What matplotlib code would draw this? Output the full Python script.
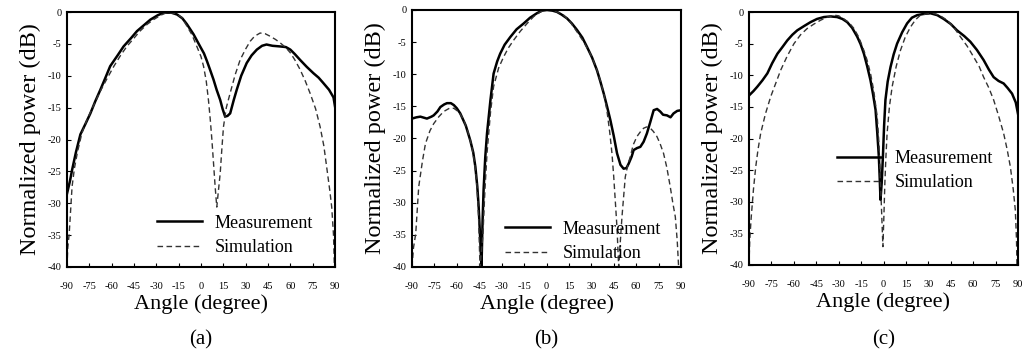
import matplotlib
matplotlib.use("Agg")
import matplotlib.pyplot as plt
from matplotlib.lines import Line2D

plt.rcParams['font.family'] = ['Liberation Serif', 'DejaVu Serif']

# ---------------- data ----------------
a_meas_x = [-90, -88, -86.6, -84, -81, -77.5, -74.3, -71, -67.6, -64, -61, -56, -52, -47, -43, -38, -34, -29, -25, -20, -16, -12.5, -9.5, -5, -0.6, 2, 4, 6, 8.4, 10.5, 12.9, 14.5, 16.2, 17.8, 19.6, 22, 24, 27, 30.7, 34, 37.5, 41, 44, 48, 53, 57, 60, 63, 66.5, 71, 75.5, 79, 82, 86, 89, 90]
a_meas_y = [-28.5, -26.5, -24.8, -22, -19.2, -17.5, -15.9, -14, -12.2, -10.2, -8.5, -6.8, -5.4, -4.1, -3, -2, -1.2, -0.5, -0.1, -0.1, -0.4, -1.0, -1.9, -3.5, -5.4, -6.5, -7.7, -9.0, -10.6, -12.2, -13.8, -15.2, -16.4, -16.3, -15.9, -13.8, -12.2, -10.0, -8.0, -6.8, -5.9, -5.3, -5.1, -5.3, -5.4, -5.5, -5.9, -6.6, -7.5, -8.6, -9.6, -10.3, -11.1, -12.2, -13.4, -14.8]

a_sim_x = [-90, -89.5, -88.5, -86.6, -85, -83, -80, -76.6, -72, -67.6, -63, -58.5, -54, -49.8, -45, -41, -36, -31.9, -27, -23, -18, -13, -9.5, -6, -2.8, 0, 1.7, 3.5, 5, 6.2, 7.3, 8.5, 9.5, 10.6, 11.5, 12.9, 14, 15.1, 17, 19.6, 23, 26.3, 30, 33, 36, 39.7, 43, 46.4, 50, 53, 57, 60, 63, 66.5, 70, 73.2, 77, 80, 82.5, 84.4, 86.5, 87.8, 89, 89.6]
a_sim_y = [-40, -37, -34.7, -27.4, -24.5, -22, -19, -16.9, -14.6, -12.4, -10.4, -8.5, -6.8, -5.4, -4.1, -3.0, -1.9, -1.2, -0.5, -0.1, -0.2, -0.8, -2.2, -3.6, -5.4, -7.0, -8.5, -10.8, -13.8, -16.8, -20, -24, -27.4, -30.6, -28.5, -25.3, -21.5, -18, -15, -12.7, -9.8, -7.5, -5.8, -4.6, -3.8, -3.3, -3.4, -3.8, -4.3, -4.8, -5.6, -6.4, -7.5, -9.0, -10.8, -12.7, -15.2, -18, -21, -24.3, -28.0, -30.6, -35, -40]

b_meas_x = [-90, -87, -84.4, -80, -77, -75.5, -73, -71, -68.5, -66.6, -64, -62, -60, -57.7, -54, -51, -49, -47.6, -46.3, -45.4, -44.5, -43.5, -42.8, -42.1, -41, -39.8, -37.5, -35.4, -33, -31, -28, -24.2, -20, -15.3, -11, -6.4, -3, 0.3, 4, 7, 10, 13.7, 17, 20.4, 24, 27, 30.5, 33.8, 36, 38.3, 40.5, 42.7, 45, 47.2, 49.5, 51.6, 53.5, 55, 57, 58.3, 60.5, 62.8, 65, 67.2, 69.5, 71.7, 74, 76.1, 78, 80.6, 83, 85, 87.5, 90]
b_meas_y = [-16.9, -16.7, -16.6, -16.9, -16.6, -16.4, -15.8, -15.1, -14.7, -14.5, -14.5, -14.8, -15.3, -16.1, -18.0, -20.3, -22.2, -24.4, -27.5, -30.6, -35, -40, -33, -28, -23, -19.2, -14, -9.9, -8.0, -6.8, -5.4, -4.2, -3.0, -2.1, -1.2, -0.5, -0.1, 0.0, -0.1, -0.3, -0.7, -1.3, -2.1, -3.1, -4.3, -5.7, -7.4, -9.4, -11.1, -13, -15, -17.1, -19.6, -22.3, -24.1, -24.7, -24.6, -23.9, -22.8, -21.8, -21.5, -21.3, -20.5, -19.2, -17.4, -15.6, -15.4, -15.8, -16.3, -16.4, -16.7, -16.1, -15.7, -15.6]

b_sim_x = [-90, -89, -87.5, -85.5, -83, -81, -78, -75.5, -72, -68.8, -65, -62, -58.5, -55.4, -52.5, -49.9, -48, -46.5, -45.5, -44.5, -43.6, -42.5, -41.2, -39.8, -37.5, -35.4, -32, -28.7, -25.5, -22, -17.5, -13, -8.5, -4.1, -0.5, 2.6, 7, 11.5, 16, 20.4, 25, 29.3, 33, 35.9, 38.5, 40.4, 42.3, 43.8, 45, 46, 47.2, 48.3, 49.4, 50.5, 52.7, 54.5, 56, 58, 60.5, 63, 65, 67, 69.5, 71.5, 73.9, 76, 78.3, 80.5, 82.8, 84.5, 86.2, 87.5, 88.4]
b_sim_y = [-40, -37, -34.8, -27.5, -23.5, -20.8, -18.8, -17.7, -16.6, -15.8, -15.3, -15.3, -15.9, -17.1, -19, -21.3, -24, -27.5, -32, -40, -38, -34.8, -28, -22.3, -16, -11.9, -9.0, -7.3, -5.9, -4.7, -3.3, -2.1, -1.0, -0.3, 0.0, 0.0, -0.3, -0.8, -1.9, -3.4, -5.0, -6.8, -8.8, -10.9, -13.2, -15.6, -19, -22.3, -26, -29.6, -34, -40, -36, -32.2, -26, -24, -22.9, -21.0, -19.7, -18.9, -18.4, -18.2, -18.4, -18.9, -19.7, -20.8, -22.3, -24.5, -27.5, -30, -32.2, -36, -40]

c_meas_x = [-90, -87, -84.4, -81, -77.7, -74.5, -71, -67.5, -64.4, -61, -57.7, -53, -48.8, -44.5, -39.9, -35.5, -31, -27.5, -24.3, -21, -17.6, -15.3, -13.1, -11, -8.7, -7, -5.3, -4.2, -3.1, -2.5, -2, -1.2, -0.4, 0.4, 1.3, 2.8, 4.7, 6.8, 9.1, 12.5, 15.8, 19, 22.5, 27, 31.4, 36, 40.3, 45, 49.2, 54, 58.1, 62.5, 67, 70.5, 73.7, 77, 80.4, 83, 86, 88.5, 90]
c_meas_y = [-13.2, -12.5, -11.8, -10.8, -9.7, -8.1, -6.6, -5.5, -4.5, -3.6, -2.9, -2.2, -1.6, -1.1, -0.8, -0.7, -0.8, -1.1, -1.6, -2.5, -3.9, -5.1, -6.6, -8.5, -10.8, -13.0, -15.5, -19.0, -22.9, -26.5, -29.7, -27, -22.9, -18, -13.9, -11, -8.7, -6.7, -5.0, -3.2, -1.8, -0.9, -0.5, -0.3, -0.2, -0.5, -1.1, -1.9, -2.9, -3.8, -4.7, -6.0, -7.6, -9.1, -10.3, -10.9, -11.3, -12.0, -12.9, -14.3, -16.1]

c_sim_x = [-90, -89.5, -88.5, -87, -85.5, -84, -82.2, -79, -75.5, -72, -68.8, -64.5, -59.9, -55.5, -51, -46.5, -42.1, -37.5, -33.2, -30, -26.5, -23, -19.8, -16.5, -13.1, -11, -8.7, -6.5, -4.2, -3, -2, -1.2, -0.4, 0.3, 0.9, 1.6, 2.4, 4, 5.8, 8.5, 11.3, 14.5, 18, 21.5, 24.7, 29, 33.6, 38, 42.5, 47, 51.4, 56, 60.3, 64, 67, 70.5, 73.7, 77, 80.4, 82.8, 84.9, 86.8, 88.2, 89, 89.3]
c_sim_y = [-40, -36, -32.4, -28, -24.5, -21.8, -19.2, -16.1, -13.4, -11.2, -9.2, -7.0, -5.0, -3.6, -2.6, -1.9, -1.3, -0.8, -0.5, -0.6, -1.1, -1.7, -2.6, -4.0, -6.1, -7.6, -9.7, -12.5, -16.6, -21, -27.1, -32, -37.1, -32, -27.1, -23, -19.2, -14.9, -11.8, -8.6, -6.1, -4.0, -2.4, -1.2, -0.5, -0.3, -0.2, -0.6, -1.3, -2.4, -3.9, -5.4, -7.1, -8.6, -10.3, -12.0, -13.9, -16.4, -19.2, -21.8, -24.5, -28, -31.3, -36, -40]

x_ticks = [-90, -75, -60, -45, -30, -15, 0, 15, 30, 45, 60, 75, 90]
y_ticks = [0, -5, -10, -15, -20, -25, -30, -35, -40]
panel_labels = ['(a)', '(b)', '(c)']
xlabel = 'Angle (degree)'
ylabel = 'Normalized power (dB)'
legend_labels = ['Measurement', 'Simulation']

panels = [
    (a_meas_x, a_meas_y, a_sim_x, a_sim_y),
    (b_meas_x, b_meas_y, b_sim_x, b_sim_y),
    (c_meas_x, c_meas_y, c_sim_x, c_sim_y),
]

# ---------------- layout ----------------
W, H = 1029, 358
fig = plt.figure(figsize=(W / 100, H / 100), dpi=100)

axes_px = [(67, 12, 335, 267), (412, 10, 681, 267), (749, 12, 1018, 265)]
legend_pos = [(0.336, 0.205), (0.346, 0.18), (0.327, 0.455)]

for i, ((mx, my, sx, sy), (l, t, r, b)) in enumerate(zip(panels, axes_px)):
    ax = fig.add_axes([l / W, 1 - b / H, (r - l) / W, (b - t) / H])
    ax.plot(mx, my, color='black', lw=1.8, solid_joinstyle='round')
    ax.plot(sx, sy, color='#333333', lw=1.0, ls=(0, (4, 2.5)))
    ax.set_xlim(-90, 90)
    ax.set_ylim(-40, 0)
    ax.set_xticks(x_ticks)
    ax.set_yticks(y_ticks)
    ax.set_xticklabels([str(v) for v in x_ticks])
    ax.set_yticklabels([str(v) for v in y_ticks])
    ax.tick_params(direction='in', length=3, width=0.8, labelsize=7.5)
    ax.tick_params(axis='x', pad=11)
    ax.tick_params(axis='y', pad=4)
    for s in ax.spines.values():
        s.set_linewidth(1.5)
        s.set_color('black')
    ax.set_xlabel(xlabel, fontsize=16, labelpad=2)
    ax.set_ylabel(ylabel, fontsize=17.5, labelpad=5)
    handles = [Line2D([], [], color='black', lw=1.8),
               Line2D([], [], color='#333333', lw=1.0, ls=(0, (4, 2.5)))]
    ax.legend(handles, legend_labels, loc='upper left', bbox_to_anchor=legend_pos[i],
              frameon=False, fontsize=13, handlelength=2.5, handletextpad=0.7,
              labelspacing=0.42, borderaxespad=0, borderpad=0)
    fig.text((l + r) / 2 / W, 1 - 340 / H, panel_labels[i], ha='center', va='center', fontsize=15)

fig.savefig('out.png', dpi=100)
